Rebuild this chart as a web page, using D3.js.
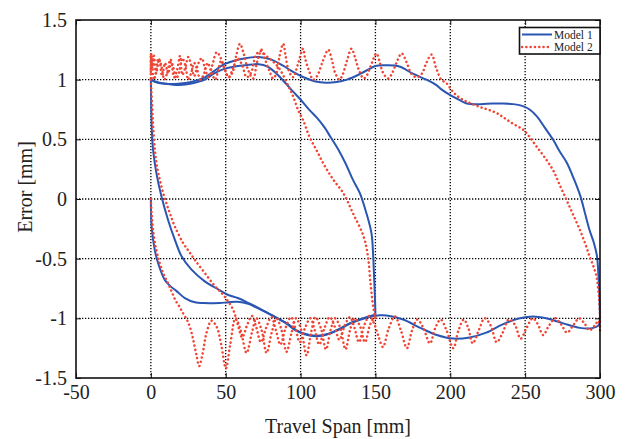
<!DOCTYPE html>
<html>
<head>
<meta charset="utf-8">
<script src="https://cdn.jsdelivr.net/npm/d3@7"></script>
<style>
  body { margin: 0; background: #fff; }
  svg text { font-family: "Liberation Serif", "Times New Roman", serif; fill: #222; }
</style>
</head>
<body>
<div id="chart"></div>
<script>
// tick labels
var xTicks = [-50, 0, 50, 100, 150, 200, 250, 300];
var yTicks = [-1.5, -1, -0.5, 0, 0.5, 1, 1.5];
var seriesNames = ["Model 1", "Model 2"];

// Model 1 (blue) as [travel mm, error mm]
var m1Start = [[0,0],[0.5,-0.23],[2.5,-0.42],[4.9,-0.54],[9.4,-0.68],[13,-0.73],[17,-0.77],[22.7,-0.83],[29.4,-0.865],[35,-0.872],[40.5,-0.873],[46,-0.872],[52,-0.865],[58,-0.862],[65,-0.878],[73,-0.925],[81.7,-0.98],[90.6,-1.04],[97.3,-1.1],[106,-1.14],[115,-1.14],[124,-1.1],[133,-1.04],[144,-0.99],[150,-0.97]];
var m1Back150 = [[150,-0.97],[149.6,-0.8],[149,-0.62],[148.5,-0.48],[147.4,-0.29],[144,-0.12],[139.6,0.05],[135,0.16],[130,0.3],[125,0.42],[120,0.52],[116,0.6],[111,0.68],[106,0.745],[99.5,0.84],[95,0.9],[90,0.97],[84,1.05],[78,1.11],[72,1.13],[63,1.12],[56,1.11],[49,1.09],[42,1.05],[36,1.0],[28,0.97],[19,0.955],[10,0.965],[4,0.98],[0,1.0]];
var m1Out300 = [[0,1.0],[0.2,0.8],[0.6,0.6],[1.5,0.41],[3.8,0.21],[7.1,0.02],[11.6,-0.18],[16,-0.34],[20.5,-0.48],[27,-0.59],[36,-0.69],[44,-0.75],[51,-0.8],[58,-0.83],[65,-0.87],[73,-0.92],[81.7,-0.98],[90.6,-1.045],[97.3,-1.105],[106,-1.145],[115,-1.145],[124,-1.105],[133,-1.045],[144,-0.995],[153,-0.975],[157.4,-0.976],[168.5,-1.01],[180,-1.08],[191,-1.14],[202,-1.17],[213,-1.16],[224,-1.12],[235,-1.05],[246.5,-1.0],[255.4,-0.985],[264,-1.0],[275,-1.04],[286.6,-1.08],[295.5,-1.08],[299,-1.06],[300,-1.0]];
var m1Back300 = [[300,-1.0],[299.6,-0.8],[299,-0.65],[298,-0.48],[296,-0.37],[293,-0.26],[290,-0.12],[287,0.02],[282.5,0.17],[278,0.3],[273,0.4],[269,0.49],[263,0.6],[258,0.69],[253,0.75],[248,0.78],[242,0.795],[235,0.8],[228,0.8],[220,0.795],[211,0.8],[206,0.83],[200,0.87],[195,0.91],[190,0.96],[184,1.0],[175,1.05],[166,1.11],[157,1.12],[150,1.115],[146,1.09],[140,1.05],[131,1.0],[124,0.98],[117,0.975],[110,0.985],[102,1.02],[95,1.065],[88,1.12],[80,1.17],[72,1.19],[63,1.18],[56,1.16],[49,1.13],[42,1.07],[36,1.02],[27,0.98],[18,0.965],[10,0.965],[4,0.975],[0,1.0]];

// Model 2 (red dotted)
var m2Start = [[0,0],[0.5,-0.12],[1.5,-0.26],[3.5,-0.42],[6,-0.54],[8.5,-0.63],[11.6,-0.71],[14,-0.78],[16.5,-0.85],[19,-0.9],[21.6,-0.96],[24,-1.01],[26,-1.07],[28.3,-1.18],[30.3,-1.3],[32.3,-1.4],[34.5,-1.3],[37.2,-1.12],[40.5,-1.02],[43.9,-1.07],[47,-1.22],[50.1,-1.42],[53,-1.22],[56.5,-1.0],[60,-1.1],[63.9,-1.29],[67.5,-1.12],[70.5,-1.0],[74,-1.1],[77.3,-1.29],[80.7,-1.12],[84,-1.0],[87.3,-1.1],[90.6,-1.28],[94,-1.12],[97,-1.0],[100.5,-1.1],[104,-1.31],[107,-1.12],[110,-0.99],[113.5,-1.08],[117,-1.26],[120,-1.1],[123,-1.0],[126.5,-1.08],[130,-1.26],[133,-1.1],[136,-1.0],[139.5,-1.06],[143,-1.2],[146.5,-1.05],[150,-0.98]];
var m2Back150 = [[150,-1.0],[148.5,-0.9],[146.5,-0.68],[145,-0.48],[142,-0.31],[135,-0.12],[128.5,0.05],[122,0.16],[116,0.28],[111,0.4],[106,0.52],[101.7,0.66],[98.4,0.745],[95,0.86],[91.7,0.95],[86,1.09],[81.7,1.15],[77,1.2],[72.8,1.24],[70,1.2],[67,1.06],[64,1.02],[61,1.12],[58,1.18],[55,1.1],[52,1.02],[49.5,1.08],[47,1.16],[45,1.08],[43,1.0],[40.5,1.06],[38,1.14],[35.5,1.05],[33,1.0],[31,1.08],[29,1.14],[27,1.06],[25,1.0],[23,1.12],[21,1.18],[19,1.07],[17,1.01],[15,1.1],[13,1.17],[11,1.06],[9,1.0],[7,1.12],[5,1.18],[3.5,1.06],[2,1.0],[1,1.15],[0.3,1.22],[0,1.05]];
var m2Out300 = [[0,1.0],[0.3,0.92],[0.8,0.8],[1.5,0.62],[2.7,0.41],[4,0.28],[6,0.16],[8,0.06],[10.5,-0.04],[13,-0.13],[16,-0.23],[21.6,-0.37],[25.5,-0.44],[29.4,-0.51],[36,-0.62],[42.8,-0.73],[49.4,-0.82],[55,-0.93],[58,-1.05],[61,-1.16],[64.5,-1.05],[67.5,-0.98],[70.5,-1.08],[73.5,-1.2],[77,-1.08],[80.5,-0.99],[83.5,-1.1],[86.5,-1.22],[90,-1.08],[93.5,-0.99],[96.5,-1.08],[99.5,-1.2],[103,-1.08],[106.5,-1.0],[109.5,-1.1],[112.5,-1.22],[116,-1.08],[119.5,-0.99],[122.5,-1.06],[126,-1.18],[129.5,-1.06],[133,-0.99],[136,-1.08],[139,-1.2],[142.5,-1.06],[146,-0.98],[149,-1.04],[152,-1.15],[155,-1.24],[159,-1.08],[163,-0.985],[167,-1.1],[171,-1.25],[174.5,-1.1],[178,-1.01],[182,-1.08],[186.4,-1.21],[190,-1.08],[193.5,-1.01],[197.5,-1.1],[202,-1.25],[205.5,-1.1],[209,-1.01],[212,-1.08],[215,-1.21],[219,-1.1],[223,-1.0],[227,-1.06],[231,-1.2],[235,-1.12],[239,-1.01],[243,-1.05],[247,-1.17],[251,-1.08],[255,-1.0],[258.5,-1.05],[262,-1.14],[266,-1.06],[270,-1.0],[274,-1.05],[278,-1.12],[282,-1.06],[286,-1.0],[289.5,-1.04],[293,-1.1],[296.5,-1.06],[299,-1.02],[300,-1.1]];
var m2Back300 = [[300,-1.1],[300,-0.98],[299.5,-0.85],[298.8,-0.76],[297.7,-0.65],[295.5,-0.56],[293,-0.48],[290,-0.37],[286.6,-0.26],[282,-0.13],[277.7,-0.01],[273,0.12],[268.7,0.24],[263,0.35],[257.6,0.44],[253,0.52],[248.7,0.58],[242,0.63],[236,0.68],[231,0.72],[225,0.75],[220,0.77],[214,0.8],[208.6,0.83],[204,0.87],[201,0.91],[197.5,0.97],[194,1.0],[190.5,1.1],[187.5,1.21],[184,1.14],[181,1.05],[177.5,1.02],[174,1.05],[171,1.14],[167.5,1.22],[164,1.14],[161,1.05],[158.5,1.01],[155,1.06],[153,1.14],[150.7,1.22],[147,1.12],[144,1.03],[142,1.01],[139,1.08],[136.5,1.18],[134,1.26],[131,1.16],[128,1.04],[126,1.0],[123,1.06],[121,1.16],[118.5,1.25],[115,1.16],[111,1.03],[108.4,1.0],[105.5,1.08],[103,1.18],[101.7,1.26],[98,1.12],[95,1.02],[92,1.08],[90,1.2],[88.4,1.3],[86,1.2],[84,1.06],[81.7,1.01],[79,1.08],[76,1.18],[74,1.25],[71,1.15],[68.4,1.01],[65,1.08],[62,1.22],[59.5,1.3],[57,1.2],[54.5,1.06],[52,1.02],[49,1.1],[46,1.2],[44,1.23],[41,1.12],[38.5,1.02],[36,1.1],[34,1.18],[31.5,1.13],[29,1.03],[27,1.12],[25,1.19],[23,1.1],[21,1.04],[19.5,1.2],[17.5,1.08],[15.5,1.02],[13.5,1.15],[11.5,1.05],[9.5,1.14],[7.5,1.03],[5.5,1.17],[3.5,1.05],[2,1.2],[1,1.1],[0,1.22],[0,1.0]];

var model1 = [m1Start, m1Back150, m1Out300, m1Back300];
var model2 = [m2Start, m2Back150, m2Out300, m2Back300];

function drawChart() {
    var W = 625, H = 439;
    var left = 76, right = 600, top = 20, bottom = 378;
    var blue = "#2a56b2", red = "#ef4636";

    var svg = d3.select("#chart").append("svg")
        .attr("width", W)
        .attr("height", H);

    var x = d3.scaleLinear().domain([-50, 300]).range([left, right]);
    var y = d3.scaleLinear().domain([-1.5, 1.5]).range([bottom, top]);

    svg.append("rect").attr("x", left).attr("y", top)
        .attr("width", right - left).attr("height", bottom - top)
        .attr("fill", "#fff");

    // dotted grid
    var grid = svg.append("g").attr("stroke", "#000").attr("stroke-width", 1.3)
        .attr("stroke-dasharray", "1.3,1.7");
    grid.selectAll(".gx").data(xTicks.slice(1, -1)).enter().append("line")
        .attr("x1", function (d) { return x(d); }).attr("x2", function (d) { return x(d); })
        .attr("y1", top).attr("y2", bottom);
    grid.selectAll(".gy").data(yTicks.slice(1, -1)).enter().append("line")
        .attr("x1", left).attr("x2", right)
        .attr("y1", function (d) { return y(d); }).attr("y2", function (d) { return y(d); });

    var line = d3.line()
        .x(function (d) { return x(d[0]); })
        .y(function (d) { return y(d[1]); })
        .curve(d3.curveCatmullRom.alpha(0.5));

    svg.append("g").selectAll("path").data(model1).enter().append("path")
        .attr("d", line)
        .attr("fill", "none")
        .attr("stroke", blue)
        .attr("stroke-width", 2);

    svg.append("g").selectAll("path").data(model2).enter().append("path")
        .attr("d", line)
        .attr("fill", "none")
        .attr("stroke", red)
        .attr("stroke-width", 2.5)
        .attr("stroke-linecap", "round")
        .attr("stroke-dasharray", "0.1,4.2");

    // axes with inward ticks, plain hyphen for negatives
    var fmt = function (d) { return String(d); };
    svg.append("g").attr("transform", "translate(0," + bottom + ")")
        .call(d3.axisBottom(x).tickValues(xTicks).tickSizeInner(-5).tickSizeOuter(0).tickPadding(7).tickFormat(fmt));
    svg.append("g").attr("transform", "translate(" + left + ",0)")
        .call(d3.axisLeft(y).tickValues(yTicks).tickSizeInner(-5).tickSizeOuter(0).tickPadding(9).tickFormat(fmt));
    svg.append("g").attr("transform", "translate(0," + top + ")")
        .call(d3.axisTop(x).tickValues(xTicks).tickSizeInner(-5).tickSizeOuter(0).tickFormat(""));
    svg.append("g").attr("transform", "translate(" + right + ",0)")
        .call(d3.axisRight(y).tickValues(yTicks).tickSizeInner(-5).tickSizeOuter(0).tickFormat(""));

    svg.selectAll(".domain").remove();
    svg.selectAll(".tick line").attr("stroke", "#111").attr("stroke-width", 1);
    svg.selectAll(".tick text").style("font-size", "20px").attr("fill", "#222");

    svg.append("rect").attr("x", left).attr("y", top)
        .attr("width", right - left).attr("height", bottom - top)
        .attr("fill", "none").attr("stroke", "#111").attr("stroke-width", 1.6);

    svg.append("text")
        .attr("x", (left + right) / 2).attr("y", 433)
        .attr("text-anchor", "middle")
        .style("font-size", "20px")
        .text("Travel Span [mm]");

    svg.append("text")
        .attr("transform", "translate(32,187) rotate(-90)")
        .attr("text-anchor", "middle")
        .style("font-size", "20px")
        .text("Error [mm]");

    // legend
    var lg = svg.append("g");
    lg.append("rect").attr("x", 519.5).attr("y", 27.5).attr("width", 80.5).attr("height", 26.5)
        .attr("fill", "#fff").attr("stroke", "#111").attr("stroke-width", 1.6);
    var rows = lg.selectAll(".row").data(seriesNames).enter().append("g")
        .attr("transform", function (d, i) { return "translate(0," + (34.5 + i * 12.5) + ")"; });
    rows.append("line").attr("x1", 522).attr("x2", 552).attr("y1", 0).attr("y2", 0)
        .attr("stroke", function (d, i) { return i == 0 ? blue : red; })
        .attr("stroke-width", function (d, i) { return i == 0 ? 2 : 2.5; })
        .attr("stroke-linecap", function (d, i) { return i == 0 ? "butt" : "round"; })
        .attr("stroke-dasharray", function (d, i) { return i == 0 ? null : "0.1,4.2"; });
    rows.append("text").attr("x", 554).attr("y", 4)
        .style("font-size", "11.5px")
        .text(function (d) { return d; });
}

window.addEventListener('load', function () {
    drawChart();
});
</script>
</body>
</html>
